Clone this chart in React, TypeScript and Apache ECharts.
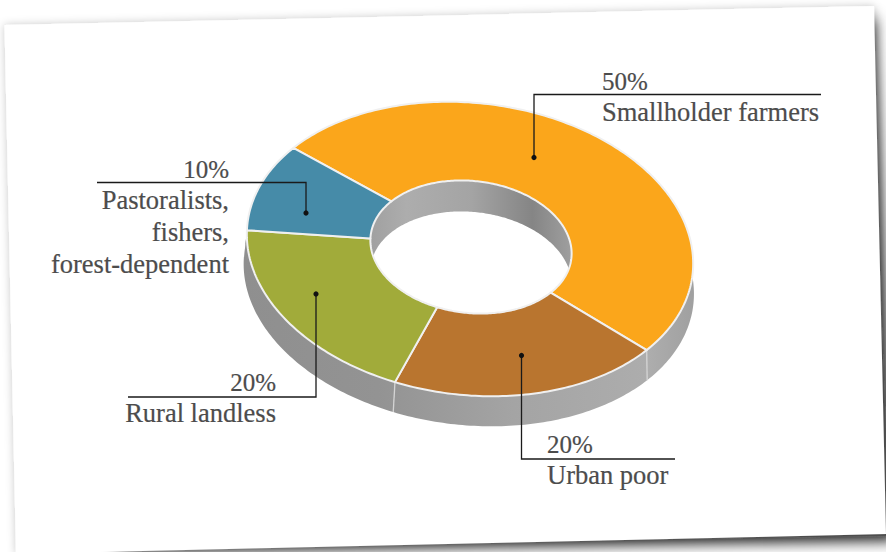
import React, { useEffect, useRef } from "react";
import * as echarts from "echarts";

const categories = ["Smallholder farmers", "Urban poor", "Rural landless", "Pastoralists, fishers, forest-dependent"];
const values = [50, 20, 20, 10];
const labelLines = [["Smallholder farmers"], ["Urban poor"], ["Rural landless"], ["Pastoralists,", "fishers,", "forest-dependent"]];
const sliceColors = ["#FBA61B", "#B9752F", "#A1AB3A", "#468BA8"];

const FONT = '26.5px "Liberation Serif"';
const PCT_FONT = '25px "Liberation Serif"';
const TEXT_COLOR = "#4c4c4c";
const LINE_H = 32;
const RAD = Math.PI / 180;
const ROT = 6.5 * RAD;
const START = 213.4;
const outer = { cx: 470, cy: 249, a: 224, b: 146 };
const inner = { cx: 471, cy: 247, a: 101, b: 66 };
const outerLow = { cx: 468.8, cy: 279, a: 226, b: 146 };
const innerLow = { cx: 471, cy: 278, a: 101, b: 66 };

type E = { cx: number; cy: number; a: number; b: number };
function pt(e: E, deg: number): number[] {
  const t = deg * RAD;
  const x = e.a * Math.cos(t);
  const y = e.b * Math.sin(t);
  return [e.cx + x * Math.cos(ROT) - y * Math.sin(ROT), e.cy + x * Math.sin(ROT) + y * Math.cos(ROT)];
}
function inside(e: E, p: number[]): boolean {
  const dx = p[0] - e.cx;
  const dy = p[1] - e.cy;
  const x = dx * Math.cos(ROT) + dy * Math.sin(ROT);
  const y = -dx * Math.sin(ROT) + dy * Math.cos(ROT);
  return (x * x) / (e.a * e.a) + (y * y) / (e.b * e.b) < 1;
}
function arc(e: E, from: number, to: number): number[][] {
  const out: number[][] = [];
  const n = Math.max(2, Math.ceil(Math.abs(to - from)));
  for (let i = 0; i <= n; i++) out.push(pt(e, from + ((to - from) * i) / n));
  return out;
}
function sliceRange(i: number): [number, number] {
  const total = values.reduce((s, v) => s + v, 0);
  const before = values.slice(0, i).reduce((s, v) => s + v, 0);
  return [START + (before / total) * 360, START + ((before + values[i]) / total) * 360];
}

const layout = [
  { dot: [534, 157.5], path: [[534, 157.5], [534, 94.5], [821, 94.5]], x: 602, align: "left", pctY: 81, nameY: 112 },
  { dot: [521.5, 355.5], path: [[521.5, 355.5], [521.5, 459], [675, 459]], x: 547, align: "left", pctY: 444, nameY: 475 },
  { dot: [316, 294], path: [[316, 294], [316, 397], [128, 397]], x: 276, align: "right", pctY: 382, nameY: 413 },
  { dot: [306, 213], path: [[306, 213], [306, 182.5], [97, 182.5]], x: 229, align: "right", pctY: 169, nameY: 200 },
];

function App() {
  const ref = useRef<HTMLDivElement>(null);
  useEffect(() => {
    const chart = echarts.init(ref.current!, undefined, { renderer: "svg" });
    const wallFill = new echarts.graphic.LinearGradient(243, 0, 694, 0, [
      { offset: 0, color: "#8f8f8f" },
      { offset: 0.3, color: "#939393" },
      { offset: 0.6, color: "#a4a4a4" },
      { offset: 0.9, color: "#adadad" },
      { offset: 1, color: "#a0a0a0" },
    ], true);
    const holeFill = new echarts.graphic.LinearGradient(370, 0, 573, 0, [
      { offset: 0, color: "#a0a0a0" },
      { offset: 0.18, color: "#adadad" },
      { offset: 0.5, color: "#a4a4a4" },
      { offset: 0.8, color: "#858585" },
      { offset: 1, color: "#a0a0a0" },
    ], true);
    const data = values.map((v, i) => [i, v]);
    chart.setOption({
      animation: false,
      tooltip: { show: false },
      graphic: {
        elements: [
          {
            type: "polygon", z: 0, silent: true,
            shape: { points: [[100, 547], [870, 11], [890, 536]] },
            style: { fill: "#555", shadowBlur: 14, shadowColor: "rgba(0,0,0,0.85)", shadowOffsetX: 5, shadowOffsetY: 5 },
          },
          {
            type: "polygon", z: 1, silent: true,
            shape: { points: [[4.5, 25], [874, 6], [886, 534], [100, 552], [16, 554]] },
            style: { fill: "#fff", shadowBlur: 9, shadowColor: "rgba(0,0,0,0.22)" },
          },
        ],
      },
      series: [
        {
          type: "custom", coordinateSystem: "none", silent: true, z: 2, data,
          renderItem: (_p: any, api: any) => {
            const i = api.value(0);
            const [a0, a1] = sliceRange(i);
            const top = arc(outer, a0, a1);
            const low = arc(outerLow, a0, a1);
            const children: any[] = [
              { type: "polygon", shape: { points: top.concat(low.reverse()) }, style: { fill: wallFill, stroke: null } },
            ];
            const s = ((a0 % 360) + 360) % 360;
            if (s > 20 && s < 150) {
              const p = pt(outer, a0);
              const q = pt(outerLow, a0);
              children.push({ type: "line", shape: { x1: p[0], y1: p[1], x2: q[0], y2: q[1] }, style: { stroke: "#d4d4d4", lineWidth: 1.3 } });
            }
            return { type: "group", children };
          },
        },
        {
          type: "custom", coordinateSystem: "none", silent: true, z: 3, data: [[0]],
          renderItem: () => {
            const A = arc(inner, 90, 450).filter((p) => !inside(innerLow, p));
            const B = arc(innerLow, 90, 450).filter((p) => inside(inner, p));
            return { type: "polygon", shape: { points: A.concat(B.reverse()) }, style: { fill: holeFill } };
          },
        },
        {
          type: "custom", coordinateSystem: "none", silent: true, z: 4, data,
          renderItem: (_p: any, api: any) => {
            const i = api.value(0);
            const [a0, a1] = sliceRange(i);
            const pts = arc(outer, a0, a1).concat(arc(inner, a1, a0));
            return { type: "polygon", shape: { points: pts }, style: { fill: sliceColors[i], stroke: "#f0f0f0", lineWidth: 2, lineJoin: "round" } };
          },
        },
        {
          type: "custom", coordinateSystem: "none", silent: true, z: 5, data,
          renderItem: (_p: any, api: any) => {
            const i = api.value(0);
            const l = layout[i];
            const textStyle = { fill: TEXT_COLOR, align: l.align, verticalAlign: "middle", stroke: TEXT_COLOR, lineWidth: 0.2 };
            const children: any[] = [
              { type: "polyline", shape: { points: l.path }, style: { fill: null, stroke: "#1a1a1a", lineWidth: 1.3 } },
              { type: "circle", shape: { cx: l.dot[0], cy: l.dot[1], r: 2.6 }, style: { fill: "#111" } },
              { type: "text", style: { ...textStyle, font: PCT_FONT, text: `${values[i]}%`, x: l.x, y: l.pctY } },
            ];
            labelLines[i].forEach((t, k) => {
              children.push({ type: "text", style: { ...textStyle, font: FONT, text: t, x: l.x, y: l.nameY + k * LINE_H } });
            });
            return { type: "group", children };
          },
        },
      ],
    });
    return () => chart.dispose();
  }, []);
  return <div ref={ref} style={{ position: "absolute", left: 0, top: 0, width: 886, height: 552, overflow: "hidden", background: "#fff" }} aria-label={categories.join(", ")} />;
}

export default App;
